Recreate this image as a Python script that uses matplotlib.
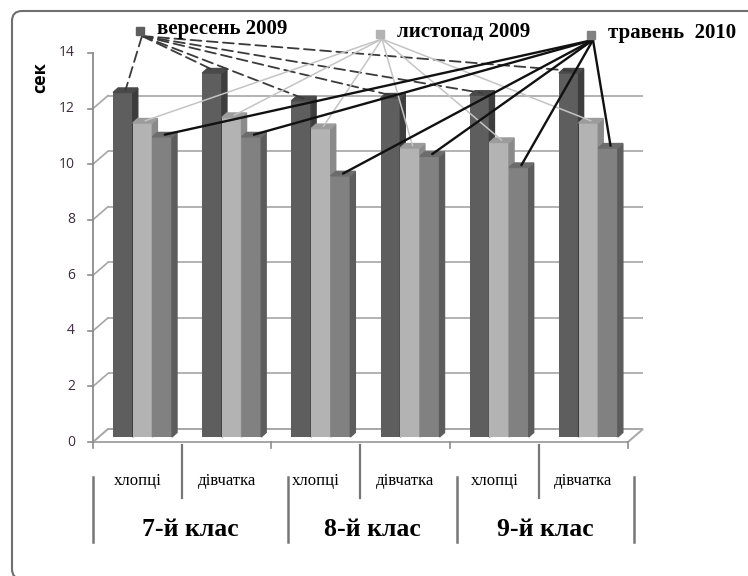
import numpy as np
import matplotlib
matplotlib.use("Agg")
import matplotlib.pyplot as plt
from matplotlib.patches import Polygon, FancyBboxPatch
from matplotlib.transforms import ScaledTranslation

groups = ["7-й клас", "8-й клас", "9-й клас"]
categories = ["хлопці", "дівчатка", "хлопці", "дівчатка", "хлопці", "дівчатка"]
series = ["вересень 2009", "листопад 2009", "травень  2010"]
sep_2009 = [12.4, 13.1, 12.1, 12.2, 12.3, 13.1]
nov_2009 = [11.3, 11.5, 11.1, 10.4, 10.6, 11.3]
may_2010 = [10.8, 10.8, 9.4, 10.1, 9.7, 10.4]
yticks = [0, 2, 4, 6, 8, 10, 12, 14]
group_edges = [-0.5, 1.687, 3.582, 5.567]

front = ["#5e5e5e", "#b3b3b3", "#818181"]
side = ["#3d3d3d", "#8a8a8a", "#5c5c5c"]
top = ["#4a4a4a", "#9c9c9c", "#6c6c6c"]

W, H = 748, 576
fig = plt.figure(figsize=(W / 100, H / 100), dpi=100)
x0, x1, y0, y1 = 93, 628, 442, 53
ax = fig.add_axes([x0 / W, 1 - y0 / H, (x1 - x0) / W, (y0 - y1) / H])
ax.set_xlim(-0.5, 5.5)
ax.set_ylim(0, 14)
ax.axis("off")

px_x = (x1 - x0) / 6
px_y = (y0 - y1) / 14
dx = lambda p: p / px_x
dy = lambda p: p / px_y

serif = "Liberation Serif"
grid_c = "#a6a6a6"

# back wall and floor
WX, WY = dx(15), dy(13)
ax.hlines([v + WY for v in yticks[1:-1]], -0.5 + WX, 5.5 + WX, color=grid_c, lw=1.2, zorder=1, clip_on=False)
for v in yticks[1:-1]:
    ax.plot([-0.5, -0.5 + WX], [v, v + WY], color=grid_c, lw=1.2, zorder=1, clip_on=False)
ax.add_patch(Polygon([(-0.5, 0), (5.5, 0), (5.5 + WX, WY), (-0.5 + WX, WY)], closed=True,
                     fill=False, ec=grid_c, lw=1.4, zorder=1, clip_on=False))
ax.plot([-0.5, -0.5], [0, 14], color="#8c8c8c", lw=1.3, clip_on=False)
for v in yticks:
    ax.plot([-0.5 - dx(5), -0.5], [v, v], color="#8c8c8c", lw=1.2, clip_on=False)
    ax.text(-0.5 - dx(18), v, str(v), ha="right", va="center", fontsize=10,
            family="Open Sans", color="#3d2c3d")
ax.text(-0.5 - dx(53), 13.1, "сек", rotation=90, ha="center", va="center",
        fontsize=13, fontweight="bold", family="Open Sans")

# bottom ticks and label separators
for b in [-0.5, 1.5, 3.5, 5.5]:
    ax.plot([b, b], [0, -dy(6)], color="#8c8c8c", lw=1.2, clip_on=False)
for b in [0.5, 2.5, 4.5]:
    ax.plot([b, b], [-dy(3), -dy(56)], color="#777777", lw=1.6, clip_on=False)
for b in group_edges:
    ax.plot([b, b], [-dy(35), -dy(100)], color="#777777", lw=1.8, clip_on=False)
for i, c in enumerate(categories):
    ax.text(i, -dy(39), c, ha="center", va="center", fontsize=12, family=serif)
for g, name in enumerate(groups):
    ax.text((group_edges[g] + group_edges[g + 1]) / 2, -dy(87), name, ha="center",
            va="center", fontsize=18.5, fontweight="bold", family=serif)

# columns with a shallow 3d look
shift = ax.transData + ScaledTranslation(5 / 100, 5 / 100, fig.dpi_scale_trans)
w = 0.22
ddx, ddy = dx(5), dy(4.5)
x = np.arange(len(categories))
tops = []
for k, vals in enumerate([sep_2009, nov_2009, may_2010]):
    pos = x + (k - 1) * w
    ax.bar(pos, vals, width=w, color=front[k], transform=shift, zorder=3 + k, clip_on=False)
    pts = []
    for p, v in zip(pos, vals):
        r = p + w / 2
        l = p - w / 2
        ax.add_patch(Polygon([(r, 0), (r + ddx, ddy), (r + ddx, v + ddy), (r, v)],
                             color=side[k], transform=shift, zorder=3 + k, clip_on=False))
        ax.add_patch(Polygon([(l, v), (r, v), (r + ddx, v + ddy), (l + ddx, v + ddy)],
                             color=top[k], transform=shift, zorder=3 + k, clip_on=False))
        pts.append((p + ddx / 2, v + ddy / 2))
    tops.append(pts)

# legend with leader lines to every column top
legend_pos = [(140, 31), (380, 34), (591, 35)]
line_style = [dict(color="#3a3a3a", lw=1.3, ls=(0, (6, 3))),
              dict(color="#c4c4c4", lw=1.1, ls="-"),
              dict(color="#111111", lw=1.7, ls="-")]
for k, name in enumerate(series):
    mx, my = legend_pos[k]
    fig.add_artist(plt.Rectangle(((mx - 4) / W, 1 - (my + 4) / H), 8 / W, 8 / H,
                                 color=front[k], transform=fig.transFigure))
    fig.text((mx + 17) / W, 1 - (my - 2) / H, name, ha="left", va="center",
             fontsize=15, fontweight="bold", family=serif)
    for pt in tops[k]:
        ax.annotate("", xy=pt, xycoords=shift, xytext=((mx + 2) / W, 1 - (my + 5) / H),
                    textcoords="figure fraction",
                    arrowprops=dict(arrowstyle="-", shrinkA=0, shrinkB=0,
                                    color=line_style[k]["color"], lw=line_style[k]["lw"],
                                    linestyle=line_style[k]["ls"]), zorder=10)

# rounded outer frame, open past the right and bottom edges
fig.add_artist(FancyBboxPatch((0.12, -0.03), 7.6, 5.68, boxstyle="round,pad=0,rounding_size=0.1",
                              fill=False, ec="#6f6f6f", lw=1.5, transform=fig.dpi_scale_trans))

fig.savefig("out.png", dpi=100)
